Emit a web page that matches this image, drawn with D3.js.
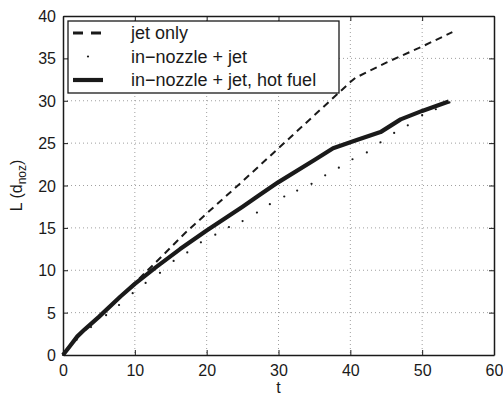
<!DOCTYPE html>
<html>
<head>
<meta charset="utf-8">
<script src="https://cdn.jsdelivr.net/npm/d3@7"></script>
<style>
  body { margin: 0; background: #fff; }
  text { font-family: "Liberation Sans", Arial, sans-serif; fill: #1a1a1a; }
</style>
</head>
<body>
<div id="chart"></div>
<script>
// jet only (dashed)
const jetT = [0, 1, 2, 5, 8, 10, 13, 17, 20, 25, 30, 35, 40, 40.7, 45, 50, 54.2];
const jetL = [0, 1.1, 2.2, 4.5, 6.9, 8.5, 11.0, 14.4, 16.7, 20.5, 24.4, 28.3, 32.2, 32.7, 34.5, 36.4, 38.1];

// in-nozzle + jet (dot markers)
const nozT = [0, 1.9, 3.9, 6.0, 7.8, 9.7, 11.5, 13.5, 15.4, 17.3, 19.2, 21.2, 23.1, 25.0, 27.0, 28.8, 30.8, 32.6, 34.6, 36.5, 38.4, 40.3, 42.3, 44.2, 46.1, 48.0, 50.0, 51.9, 53.8];
const nozL = [0, 1.8, 3.3, 4.7, 5.9, 7.3, 8.5, 9.7, 11.1, 12.1, 13.3, 14.2, 15.1, 15.8, 16.8, 17.8, 18.7, 19.4, 20.2, 21.2, 22.1, 23.1, 23.9, 25.1, 26.2, 27.1, 28.3, 29.0, 29.8];

// in-nozzle + jet, hot fuel (thick solid)
const hotT = [0, 1, 2, 3, 5, 8, 10, 13, 16.3, 20, 25, 27.4, 30, 35, 37.6, 41, 44.2, 47, 50, 53.7];
const hotL = [0, 1.1, 2.2, 3.0, 4.5, 6.9, 8.4, 10.4, 12.5, 14.7, 17.5, 18.9, 20.4, 23.0, 24.4, 25.4, 26.3, 27.8, 28.8, 29.9];

const xTicks = [0, 10, 20, 30, 40, 50, 60];
const yTicks = [0, 5, 10, 15, 20, 25, 30, 35, 40];
const legendLabels = ['jet only', 'in\u2212nozzle + jet', 'in\u2212nozzle + jet, hot fuel'];

const W = 503, H = 397;
const margin = { top: 16, right: 9, bottom: 42, left: 63 };
const width = W - margin.left - margin.right;
const height = H - margin.top - margin.bottom;

const svg = d3.select('#chart').append('svg')
    .attr('width', W)
    .attr('height', H);

const g = svg.append('g')
    .attr('transform', `translate(${margin.left},${margin.top})`);

const x = d3.scaleLinear().domain([0, 60]).range([0, width]);
const y = d3.scaleLinear().domain([0, 40]).range([height, 0]);

// grid
g.append('g').selectAll('line')
    .data(xTicks.slice(1, -1))
    .join('line')
    .attr('x1', d => x(d)).attr('x2', d => x(d))
    .attr('y1', 0).attr('y2', height)
    .attr('stroke', '#888').attr('stroke-width', 0.8)
    .attr('stroke-dasharray', '1,3');

g.append('g').selectAll('line')
    .data(yTicks.slice(1, -1))
    .join('line')
    .attr('x1', 0).attr('x2', width)
    .attr('y1', d => y(d)).attr('y2', d => y(d))
    .attr('stroke', '#888').attr('stroke-width', 0.8)
    .attr('stroke-dasharray', '1,3');

// axes
g.append('g')
    .attr('transform', `translate(0,${height})`)
    .call(d3.axisBottom(x).tickValues(xTicks).tickSizeInner(-5).tickSizeOuter(0).tickPadding(10));
const yAxis = g.append('g')
    .call(d3.axisLeft(y).tickValues(yTicks).tickSizeInner(-5).tickSizeOuter(0).tickPadding(7));
g.append('g')
    .call(d3.axisTop(x).tickValues(xTicks).tickSizeInner(-5).tickSizeOuter(0).tickFormat(''));
g.append('g')
    .attr('transform', `translate(${width},0)`)
    .call(d3.axisRight(y).tickValues(yTicks).tickSizeInner(-5).tickSizeOuter(0).tickFormat(''));

g.selectAll('.domain').attr('stroke', '#1a1a1a').attr('stroke-width', 1.5);
g.selectAll('.tick line').attr('stroke', '#1a1a1a').attr('stroke-width', 1);
g.selectAll('.tick text').attr('font-size', 16).attr('fill', '#1a1a1a')
    .style('font-family', '"Liberation Sans", Arial, sans-serif');
yAxis.selectAll('.tick text').attr('dy', '0.35em');

// series
const line = d3.line().x(d => x(d[0])).y(d => y(d[1]));

g.append('path')
    .datum(d3.zip(jetT, jetL))
    .attr('d', line)
    .attr('fill', 'none')
    .attr('stroke', '#1a1a1a')
    .attr('stroke-width', 2)
    .attr('stroke-dasharray', '7,5');

g.append('path')
    .datum(d3.zip(hotT, hotL))
    .attr('d', line)
    .attr('fill', 'none')
    .attr('stroke', '#1a1a1a')
    .attr('stroke-width', 4.2)
    .attr('stroke-linejoin', 'round');

g.append('g').selectAll('circle')
    .data(d3.zip(nozT, nozL))
    .join('circle')
    .attr('cx', d => x(d[0]))
    .attr('cy', d => y(d[1]))
    .attr('r', 1.1)
    .attr('fill', '#1a1a1a');

// legend
const legend = svg.append('g').attr('transform', 'translate(68,21)');
legend.append('rect')
    .attr('width', 271).attr('height', 72)
    .attr('fill', '#fff')
    .attr('stroke', '#1a1a1a').attr('stroke-width', 1.3);

const rows = legend.selectAll('g.row')
    .data(legendLabels)
    .join('g')
    .attr('class', 'row')
    .attr('transform', (d, i) => `translate(0,${12 + i * 23.5})`);

rows.append('text')
    .attr('x', 63)
    .attr('dy', '0.35em')
    .attr('font-size', 18)
    .text(d => d);

rows.filter((d, i) => i === 0).append('line')
    .attr('x1', 5).attr('x2', 35)
    .attr('stroke', '#1a1a1a').attr('stroke-width', 2.8)
    .attr('stroke-dasharray', '10,8');
rows.filter((d, i) => i === 1).append('circle')
    .attr('cx', 20).attr('r', 1.1).attr('fill', '#1a1a1a');
rows.filter((d, i) => i === 2).append('line')
    .attr('x1', 5).attr('x2', 35)
    .attr('stroke', '#1a1a1a').attr('stroke-width', 4.2);

// axis labels
svg.append('text')
    .attr('x', margin.left + width / 2)
    .attr('y', 393)
    .attr('text-anchor', 'middle')
    .attr('font-size', 16)
    .text('t');

const ylab = svg.append('text')
    .attr('transform', `translate(22,${margin.top + height / 2}) rotate(-90)`)
    .attr('text-anchor', 'middle')
    .attr('font-size', 16);
ylab.append('tspan').text('L (d');
ylab.append('tspan').attr('font-size', 12).attr('dy', 4).text('noz');
ylab.append('tspan').attr('dy', -4).text(')');
</script>
</body>
</html>
